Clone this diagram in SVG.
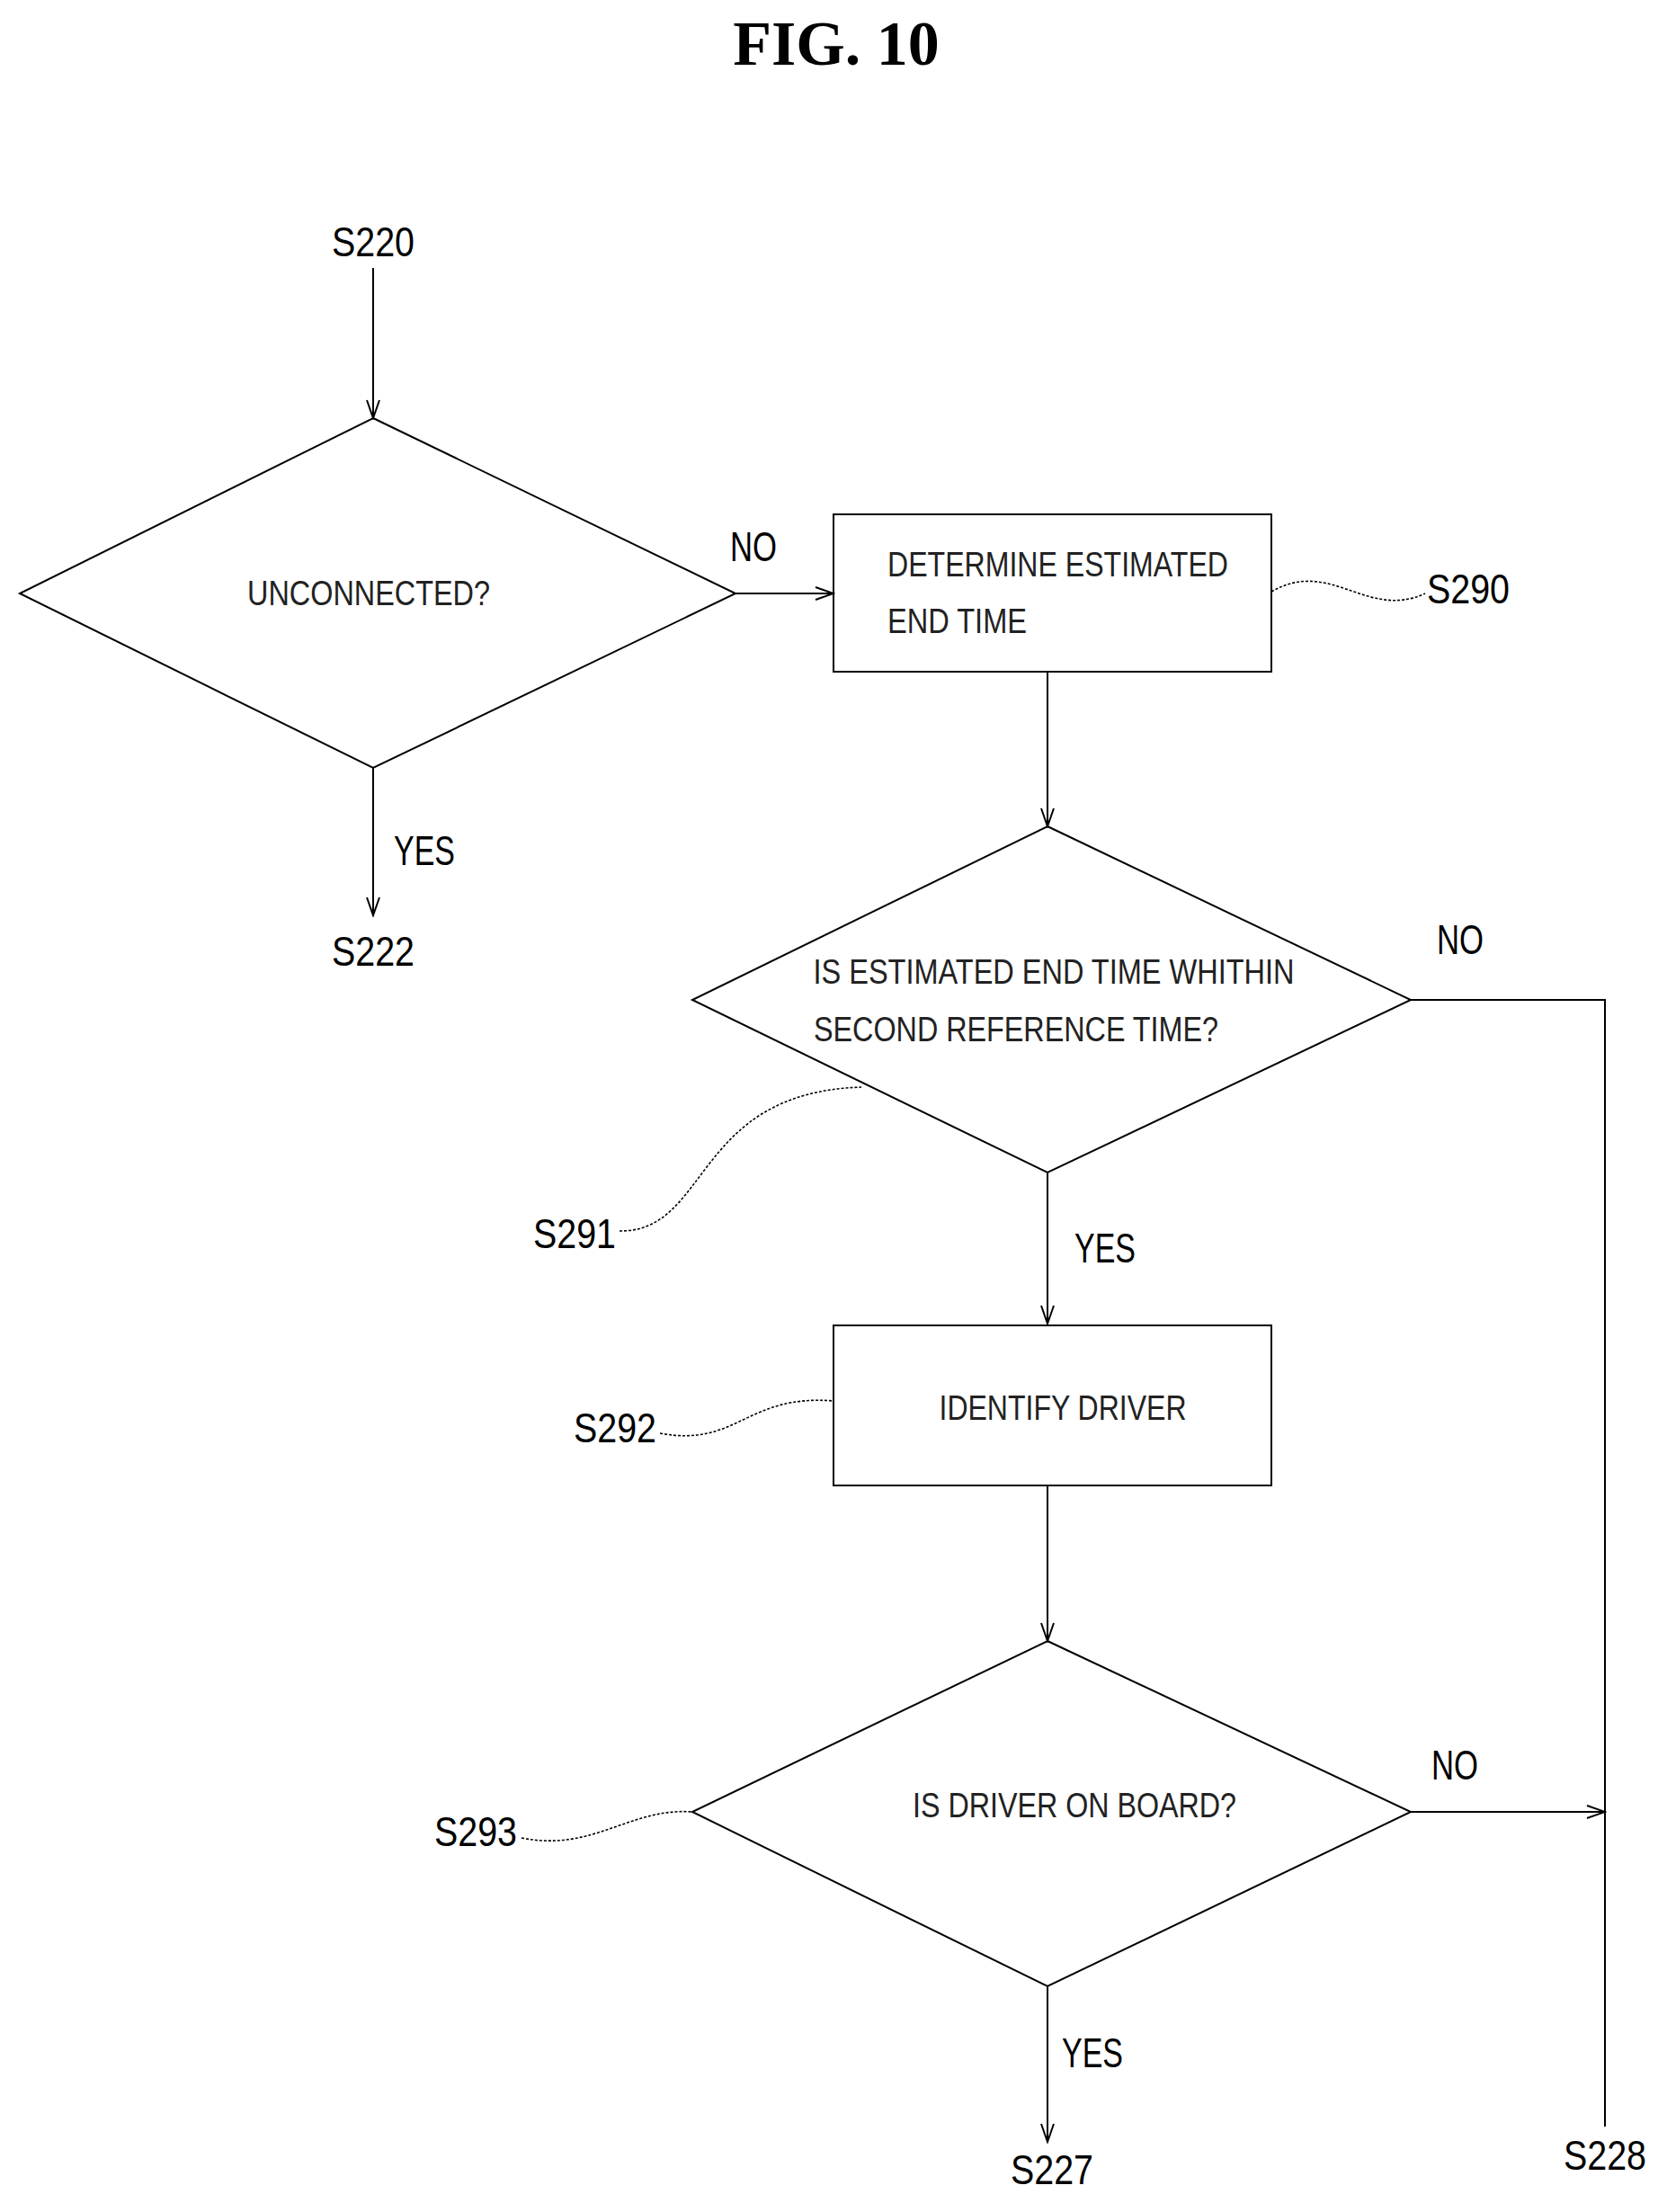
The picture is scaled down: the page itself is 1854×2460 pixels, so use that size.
<svg xmlns="http://www.w3.org/2000/svg" width="1854" height="2460" viewBox="0 0 1854 2460">
<defs>
<marker id="ah" markerWidth="24" markerHeight="16" refX="22" refY="8" orient="auto" markerUnits="userSpaceOnUse"><path d="M2,1 L22,8 L2,15" fill="none" stroke="#000" stroke-width="2"/></marker>
</defs>
<style>
.s{fill:none;stroke:#000;stroke-width:2}
.c{fill:none;stroke:#000;stroke-width:2;marker-end:url(#ah)}
.q{fill:none;stroke:#000;stroke-width:1.6;stroke-dasharray:3 2}
.t{font-family:"Liberation Sans Narrow","Liberation Sans",sans-serif;font-size:46px;fill:#000}
.n{font-family:"Liberation Sans Narrow","Liberation Sans",sans-serif;font-size:38px;fill:#222}
</style>
<rect width="1854" height="2460" fill="#fff"/>
<text x="930" y="72" text-anchor="middle" font-family="Liberation Serif,serif" font-weight="bold" font-size="70">FIG. 10</text>
<g id="labels">
<text class="t" x="415" y="285" text-anchor="middle" textLength="92" lengthAdjust="spacingAndGlyphs">S220</text>
<text class="t" x="415" y="1074" text-anchor="middle" textLength="92" lengthAdjust="spacingAndGlyphs">S222</text>
<text class="t" x="1633" y="671" text-anchor="middle" textLength="92" lengthAdjust="spacingAndGlyphs">S290</text>
<text class="t" x="639" y="1388" text-anchor="middle" textLength="92" lengthAdjust="spacingAndGlyphs">S291</text>
<text class="t" x="684" y="1604" text-anchor="middle" textLength="92" lengthAdjust="spacingAndGlyphs">S292</text>
<text class="t" x="529" y="2053" text-anchor="middle" textLength="92" lengthAdjust="spacingAndGlyphs">S293</text>
<text class="t" x="1170" y="2429" text-anchor="middle" textLength="92" lengthAdjust="spacingAndGlyphs">S227</text>
<text class="t" x="1785" y="2413" text-anchor="middle" textLength="92" lengthAdjust="spacingAndGlyphs">S228</text>
<text class="t" x="838" y="624" text-anchor="middle" textLength="52" lengthAdjust="spacingAndGlyphs">NO</text>
<text class="t" x="472" y="962" text-anchor="middle" textLength="68" lengthAdjust="spacingAndGlyphs">YES</text>
<text class="t" x="1624" y="1061" text-anchor="middle" textLength="52" lengthAdjust="spacingAndGlyphs">NO</text>
<text class="t" x="1229" y="1404" text-anchor="middle" textLength="68" lengthAdjust="spacingAndGlyphs">YES</text>
<text class="t" x="1618" y="1979" text-anchor="middle" textLength="52" lengthAdjust="spacingAndGlyphs">NO</text>
<text class="t" x="1215" y="2299" text-anchor="middle" textLength="68" lengthAdjust="spacingAndGlyphs">YES</text>
</g>
<g id="d1"><polygon class="s" points="415,465 818,660 415,854 22,660"/>
<text class="n" x="410" y="673" text-anchor="middle" textLength="270" lengthAdjust="spacingAndGlyphs">UNCONNECTED?</text></g>
<g id="s290"><rect class="s" x="927" y="572" width="487" height="175"/>
<text class="n" x="987" y="641" textLength="379" lengthAdjust="spacingAndGlyphs">DETERMINE ESTIMATED</text>
<text class="n" x="987" y="704" textLength="155" lengthAdjust="spacingAndGlyphs">END TIME</text></g>
<g id="s291"><polygon class="s" points="1165,919 1569,1112 1165,1304 770,1112"/>
<text class="n" x="1172" y="1094" text-anchor="middle" textLength="535" lengthAdjust="spacingAndGlyphs">IS ESTIMATED END TIME WHITHIN</text>
<text class="n" x="1130" y="1158" text-anchor="middle" textLength="450" lengthAdjust="spacingAndGlyphs">SECOND REFERENCE TIME?</text></g>
<g id="s292"><rect class="s" x="927" y="1474" width="487" height="178"/>
<text class="n" x="1182" y="1579" text-anchor="middle" textLength="275" lengthAdjust="spacingAndGlyphs">IDENTIFY DRIVER</text></g>
<g id="s293"><polygon class="s" points="1165,1825 1569,2015 1165,2209 770,2015"/>
<text class="n" x="1195" y="2021" text-anchor="middle" textLength="360" lengthAdjust="spacingAndGlyphs">IS DRIVER ON BOARD?</text></g>
<g id="connectors">
<path class="c" d="M415,298 V465"/>
<path class="c" d="M415,854 V1018"/>
<path class="c" d="M818,660 H927"/>
<path class="c" d="M1165,747 V919"/>
<path class="s" d="M1569,1112 H1785 V2365"/>
<path class="c" d="M1165,1304 V1472"/>
<path class="c" d="M1165,1652 V1825"/>
<path class="c" d="M1569,2015 H1785"/>
<path class="c" d="M1165,2209 V2382"/>
<path class="q" d="M1414,658 C1480,620 1520,690 1585,660"/>
<path class="q" d="M689,1369 C790,1370 770,1215 958,1209"/>
<path class="q" d="M734,1594 C820,1610 830,1550 927,1558"/>
<path class="q" d="M580,2044 C660,2060 700,2010 770,2015"/>
</g>
</svg>
